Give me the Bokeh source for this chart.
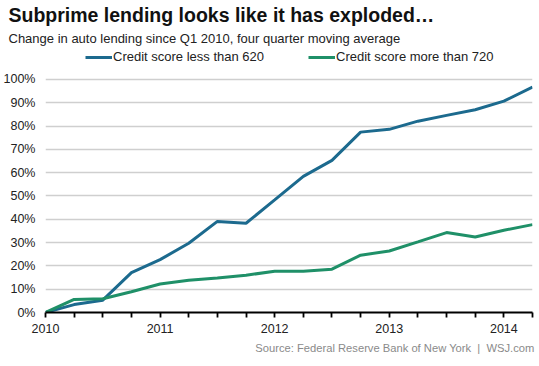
from bokeh.plotting import figure
from bokeh.embed import file_html
from bokeh.resources import INLINE
from bokeh.models import (Range1d, FixedTicker, PrintfTickFormatter, Title,
                          Legend, LegendItem, ColumnDataSource)

# ---- data ----
quarters = ["2010Q1", "2010Q2", "2010Q3", "2010Q4",
            "2011Q1", "2011Q2", "2011Q3", "2011Q4",
            "2012Q1", "2012Q2", "2012Q3", "2012Q4",
            "2013Q1", "2013Q2", "2013Q3", "2013Q4",
            "2014Q1", "2014Q2"]
subprime = [0.0, 3.4, 5.3, 17.1, 22.7, 29.7, 39.1, 38.3,
            48.3, 58.4, 65.3, 77.4, 78.6, 82.1, 84.6, 87.0, 90.7, 96.7]
prime = [0.0, 5.6, 5.9, 8.9, 12.2, 13.8, 14.8, 16.0,
         17.7, 17.7, 18.6, 24.6, 26.4, 30.3, 34.3, 32.4, 35.3, 37.7]
year_labels = ["2010", "2011", "2012", "2013", "2014"]
y_ticks = [0, 10, 20, 30, 40, 50, 60, 70, 80, 90, 100]

series_names = ["Credit score less than 620", "Credit score more than 720"]
BLUE = "#1c6a8e"
GREEN = "#1f9068"
FONT = "Liberation Sans"

idx = list(range(len(quarters)))
src = ColumnDataSource(dict(x=idx, q=quarters, sub=subprime, pri=prime))

TOP = 47          # frame top (px)
BOTTOM = 312.3    # frame bottom (px)
PX_PER_UNIT = 2.333
y_end = (BOTTOM - TOP) / PX_PER_UNIT

p = figure(width=539, height=366, output_backend="svg", toolbar_location=None,
           x_range=Range1d(0, len(quarters) - 1), y_range=Range1d(0, y_end))
p.min_border_left = 43
p.min_border_right = 7
p.min_border_top = TOP
p.min_border_bottom = 54
p.outline_line_color = None
p.background_fill_color = "white"
p.border_fill_color = "white"

# grid
p.xgrid.grid_line_color = None
p.ygrid.ticker = FixedTicker(ticks=y_ticks)
p.ygrid.grid_line_color = "#cfcfcf"
p.ygrid.grid_line_width = 1.5

# y axis
ya = p.yaxis[0]
ya.ticker = FixedTicker(ticks=y_ticks)
ya.formatter = PrintfTickFormatter(format="%d%%")
ya.axis_line_color = None
ya.major_tick_line_color = None
ya.minor_tick_line_color = None
ya.major_tick_in = 0
ya.major_tick_out = 0
ya.minor_tick_in = 0
ya.minor_tick_out = 0
ya.major_label_standoff = 10
ya.major_label_text_font = FONT
ya.major_label_text_font_size = "12.5px"
ya.major_label_text_color = "#222222"

# x axis
xa = p.xaxis[0]
xa.ticker = FixedTicker(ticks=idx)
overrides = {}
for i in idx:
    overrides[i] = year_labels[i // 4] if i % 4 == 0 else ""
xa.major_label_overrides = overrides
xa.axis_line_color = "black"
xa.axis_line_width = 1.8
xa.major_tick_line_color = "black"
xa.major_tick_line_width = 1.8
xa.major_tick_in = 0
xa.major_tick_out = 5
xa.minor_tick_line_color = None
xa.minor_tick_in = 0
xa.minor_tick_out = 0
xa.major_label_standoff = 6
xa.major_label_text_font = FONT
xa.major_label_text_font_size = "12.5px"
xa.major_label_text_color = "#222222"

r1 = p.line("x", "sub", source=src, line_color=BLUE, line_width=3)
r2 = p.line("x", "pri", source=src, line_color=GREEN, line_width=3)

legend = Legend(items=[LegendItem(label=series_names[0], renderers=[r1]),
                       LegendItem(label=series_names[1], renderers=[r2])],
                orientation="horizontal", location=(40, BOTTOM - 65))
legend.background_fill_alpha = 0
legend.border_line_color = None
legend.label_text_font = FONT
legend.label_text_font_size = "13px"
legend.label_text_color = "#222222"
legend.glyph_width = 27
legend.glyph_height = 16
legend.label_height = 16
legend.label_standoff = 1
legend.spacing = 44
legend.padding = 0
legend.margin = 0
p.add_layout(legend, "center")

subtitle = Title(text="Change in auto lending since Q1 2010, four quarter moving average",
                 align="left", offset=-37, standoff=4,
                 text_font=FONT, text_font_style="normal", text_font_size="13px",
                 text_color="#222222")
p.add_layout(subtitle, "above")
title = Title(text="Subprime lending looks like it has exploded\u2026",
              align="left", offset=-37, standoff=2,
              text_font=FONT, text_font_style="bold", text_font_size="19.5px",
              text_color="#111111")
p.add_layout(title, "above")

source = Title(text="Source: Federal Reserve Bank of New York\u00a0\u00a0|\u00a0\u00a0WSJ.com",
               align="right", offset=-2, standoff=8,
               text_font=FONT, text_font_style="normal", text_font_size="11.2px",
               text_color="#8a8a8a")
p.add_layout(source, "below")

open("out.html", "w").write(file_html(p, INLINE))
